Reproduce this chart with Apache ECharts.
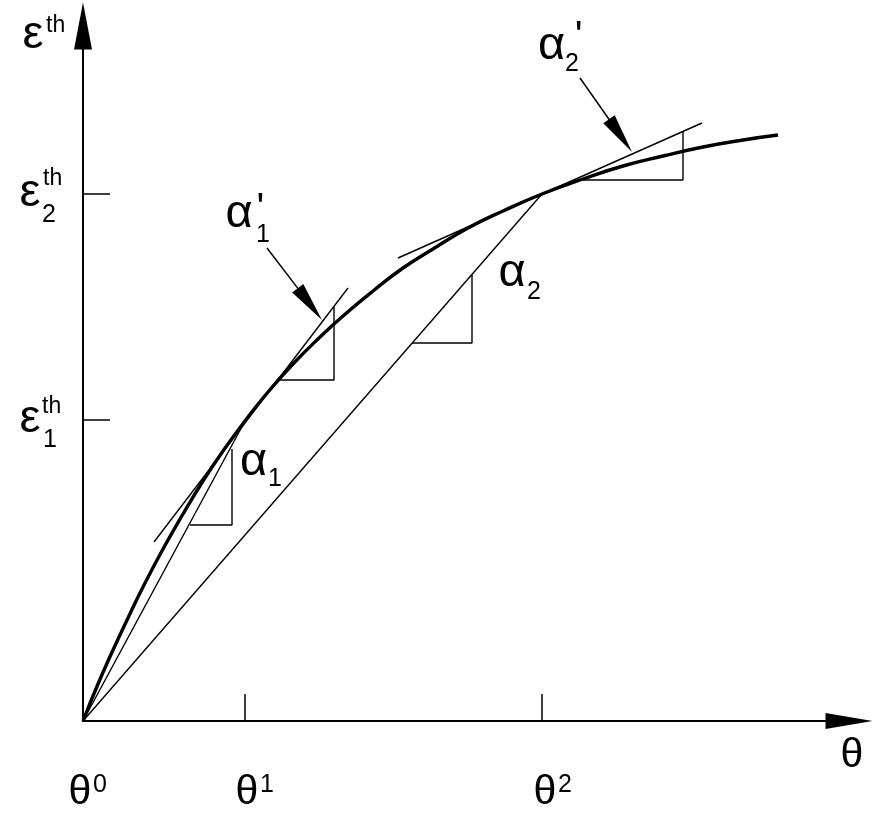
<!DOCTYPE html>
<html>
<head>
<meta charset="utf-8">
<script src="https://cdn.jsdelivr.net/npm/echarts@6/dist/echarts.min.js"></script>
<style>
html,body{margin:0;padding:0;background:#fff;}
#chart{width:885px;height:814px;}
</style>
</head>
<body>
<div id="chart"></div>
<script>
// ---- data (schematic units) ----
const thetaTicks = [0, 162, 459];          // θ0, θ1, θ2
const thetaTickLabels = ['0', '1', '2'];    // superscripts of θ
const epsTicks = [301, 527];                // ε1th, ε2th
const epsTickLabels = ['1', '2'];           // subscripts of ε
const curveTheta = [0, 15, 30, 45, 60, 80, 100, 120, 140, 162, 185, 210, 235, 260, 290, 320, 350, 385, 420, 459, 500, 540, 580, 620, 660, 695];
const curveEps   = [0, 37, 71, 103, 134, 172, 207, 240, 270, 300, 329, 357, 382, 405, 430, 453, 472, 493, 510, 527, 542, 555, 565, 574, 581, 586];
const chordAlpha1 = [[0, 0], [162, 300]];
const chordAlpha2 = [[0, 0], [459, 527]];
const tangentAlpha1p = [[71, 179], [265, 433]];
const tangentAlpha2p = [[315, 463], [619, 598]];
const triAlpha1  = [[107, 196], [149, 196], [149, 272]];
const triAlpha1p = [[197, 341], [251, 341], [251, 414]];
const triAlpha2  = [[329, 378], [389, 378], [389, 446]];
const triAlpha2p = [[500, 541], [600, 541], [600, 589]];
const arrowAlpha1p = [184, 473, 239, 401];
const arrowAlpha2p = [497, 643, 549, 569];

const chart = echarts.init(document.getElementById('chart'), null, {renderer: 'canvas'});
const FONT = '"Liberation Sans", Arial, Helvetica, sans-serif';
const BLACK = '#000';

function thinLine(name, pts) {
  return {
    name: name, type: 'line', data: pts, symbol: 'none', showSymbol: false,
    lineStyle: {color: BLACK, width: 1.4}, silent: true, z: 3, animation: false
  };
}

const option = {
  animation: false,
  backgroundColor: '#fff',
  grid: {left: 83, right: 36, top: 26, bottom: 93},
  xAxis: {
    type: 'value', min: 0, max: 766,
    splitLine: {show: false},
    axisLine: {show: true, lineStyle: {color: BLACK, width: 2}, symbol: ['none', 'triangle'], symbolSize: [16, 47]},
    axisTick: {show: true, inside: true, length: 27, customValues: thetaTicks.slice(1), lineStyle: {color: BLACK, width: 1.5}},
    axisLabel: {show: false}
  },
  yAxis: {
    type: 'value', min: 0, max: 695,
    splitLine: {show: false},
    axisLine: {show: true, lineStyle: {color: BLACK, width: 2}, symbol: ['none', 'triangle'], symbolSize: [18, 47]},
    axisTick: {show: true, inside: true, length: 27, customValues: epsTicks, lineStyle: {color: BLACK, width: 1.5}},
    axisLabel: {show: false}
  },
  series: [
    thinLine('chord α1', chordAlpha1),
    thinLine('chord α2', chordAlpha2),
    thinLine('tangent α1\'', tangentAlpha1p),
    thinLine('tangent α2\'', tangentAlpha2p),
    thinLine('tri α1', triAlpha1),
    thinLine('tri α1\'', triAlpha1p),
    thinLine('tri α2', triAlpha2),
    thinLine('tri α2\'', triAlpha2p),
    {
      name: 'εth(θ)', type: 'line', data: curveTheta.map((t, i) => [t, curveEps[i]]),
      smooth: 0.5, symbol: 'none', showSymbol: false,
      lineStyle: {color: BLACK, width: 3.4}, z: 5, silent: true
    },
    {
      name: 'arrows', type: 'custom', coordinateSystem: 'cartesian2d',
      data: [arrowAlpha1p, arrowAlpha2p],
      encode: {x: [0, 2], y: [1, 3]},
      silent: true, z: 6,
      renderItem: function (params, api) {
        const p1 = api.coord([api.value(0), api.value(1)]);
        const p2 = api.coord([api.value(2), api.value(3)]);
        const dx = p2[0] - p1[0], dy = p2[1] - p1[1];
        const L = Math.hypot(dx, dy), ux = dx / L, uy = dy / L;
        const hl = 40, hw = 7;
        const bx = p2[0] - ux * hl, by = p2[1] - uy * hl;
        return {
          type: 'group',
          children: [
            {type: 'line', shape: {x1: p1[0], y1: p1[1], x2: bx + ux * 4, y2: by + uy * 4}, style: {stroke: BLACK, lineWidth: 1.5}},
            {type: 'polygon', shape: {points: [[p2[0], p2[1]], [bx - uy * hw, by + ux * hw], [bx + uy * hw, by - ux * hw]]}, style: {fill: BLACK}}
          ]
        };
      }
    }
  ]
};
chart.setOption(option);

// ---- text labels, anchored in data coordinates ----
const BIG = 47, THETA = 41, SMALL = 25, SUP = 23;
const labels = [
  // axis names
  {t: 'ε', x: -50, y: 686, s: BIG, a: 'center'},
  {t: 'th', x: -37, y: 695, s: SUP, a: 'left'},
  {t: 'θ', x: 769, y: -35, s: THETA, a: 'center'},
  // ε tick labels
  {t: 'ε', x: -53, y: epsTicks[1] + 1, s: BIG, a: 'center'},
  {t: 'th', x: -40, y: epsTicks[1] + 15, s: SUP, a: 'left'},
  {t: epsTickLabels[1], x: -41, y: epsTicks[1] - 21, s: SMALL, a: 'left'},
  {t: 'ε', x: -53, y: epsTicks[0] + 1, s: BIG, a: 'center'},
  {t: 'th', x: -41, y: epsTicks[0] + 13, s: SUP, a: 'left'},
  {t: epsTickLabels[0], x: -40, y: epsTicks[0] - 20, s: SMALL, a: 'left'},
  // α labels
  {t: 'α', x: 170.5, y: 258.5, s: BIG, a: 'center'},
  {t: '1', x: 185, y: 241.5, s: SMALL, a: 'left'},
  {t: 'α', x: 156, y: 507, s: BIG, a: 'center'},
  {t: '1', x: 173, y: 485.5, s: SMALL, a: 'left'},
  {t: "'", x: 177.5, y: 511.5, s: THETA, a: 'center'},
  {t: 'α', x: 429, y: 447.5, s: BIG, a: 'center'},
  {t: '2', x: 444, y: 428.5, s: SMALL, a: 'left'},
  {t: 'α', x: 468.5, y: 675, s: BIG, a: 'center'},
  {t: '2', x: 482, y: 657, s: SMALL, a: 'left'},
  {t: "'", x: 495.7, y: 683, s: THETA, a: 'center'}
];
const thetaDx = [-3, 2, 3];
thetaTicks.forEach(function (v, i) {
  labels.push({t: 'θ', x: v + thetaDx[i], y: -72, s: THETA, a: 'center'});
  labels.push({t: thetaTickLabels[i], x: v + thetaDx[i] + 13, y: -64, s: SMALL, a: 'left'});
});

const graphics = labels.map(function (l) {
  const p = chart.convertToPixel({gridIndex: 0}, [l.x, l.y]);
  return {
    type: 'text', x: p[0], y: p[1], silent: true, z: 10,
    style: {text: l.t, fill: BLACK, font: l.s + 'px ' + FONT, textAlign: l.a, textVerticalAlign: 'middle'}
  };
});
chart.setOption({graphic: graphics});
</script>
</body>
</html>
